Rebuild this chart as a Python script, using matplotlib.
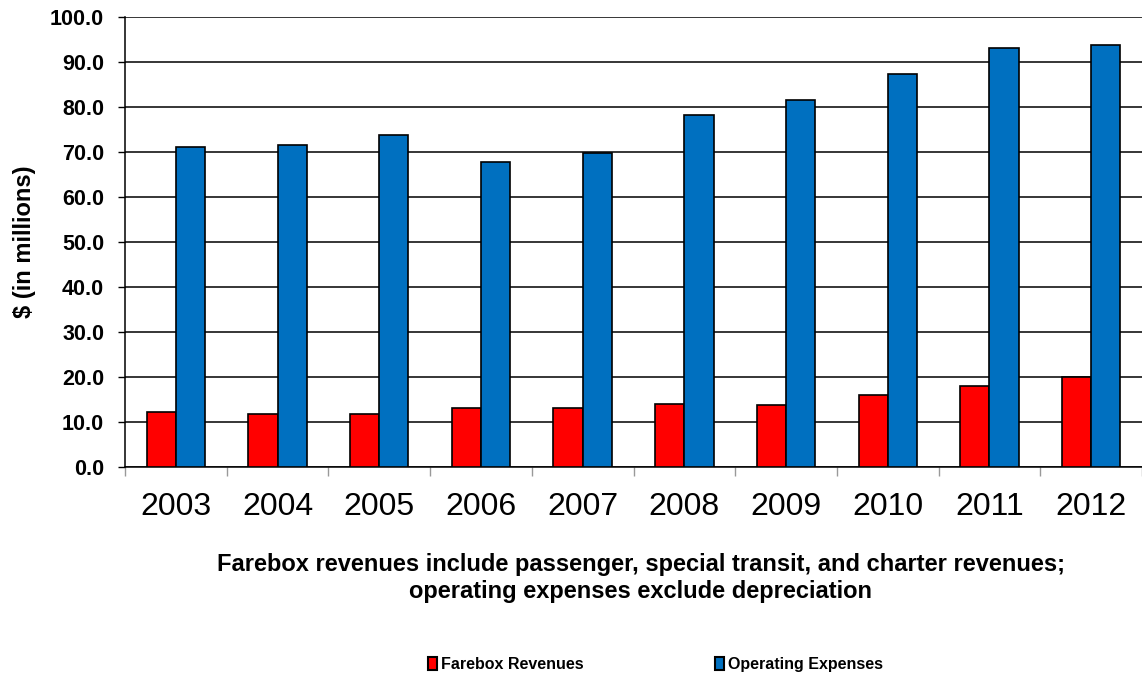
import numpy as np
import matplotlib.pyplot as plt
from matplotlib.patches import Patch

plt.rcParams['font.family'] = ['Liberation Sans', 'DejaVu Sans']

years = ["2003", "2004", "2005", "2006", "2007", "2008", "2009", "2010", "2011", "2012"]
farebox = [12.3, 11.8, 11.7, 13.2, 13.0, 14.0, 13.8, 16.1, 17.9, 20.1]
expenses = [71.0, 71.5, 73.8, 67.7, 69.7, 78.3, 81.5, 87.3, 93.0, 93.7]

red = "#ff0000"
blue = "#0070c0"

fig = plt.figure(figsize=(11.42, 6.81), dpi=100)
ax = fig.add_axes([0.1095, 0.3143, 0.8905, 0.6608])

x = np.arange(len(years))
w = 0.287
ax.bar(x - w / 2, farebox, w, color=red, edgecolor="black", linewidth=1.2, zorder=3)
ax.bar(x + w / 2, expenses, w, color=blue, edgecolor="black", linewidth=1.2, zorder=3)

ax.set_ylim(0, 100)
ax.set_xlim(-0.5, len(years) - 0.5)
ax.set_yticks(np.arange(0, 101, 10))
ax.set_yticklabels(["%.1f" % v for v in np.arange(0, 101, 10)], fontsize=15.5, fontweight="bold")
ax.yaxis.grid(True, color="black", linewidth=1.1, zorder=0)
ax.set_axisbelow(True)

ax.set_xticks(x)
ax.set_xticklabels(years, fontsize=23)
ax.tick_params(axis="x", length=0, pad=18)
ax.set_xticks(np.arange(-0.5, len(years), 1), minor=True)
ax.tick_params(axis="x", which="minor", length=6.5, color="#999999", width=1)
ax.tick_params(axis="y", length=5, width=1, pad=10)

for s in ["top", "right"]:
    ax.spines[s].set_visible(False)
ax.spines["left"].set_linewidth(1.1)
ax.spines["bottom"].set_linewidth(1.1)

ax.set_ylabel("$ (in millions)", fontsize=17, fontweight="bold")
ax.yaxis.set_label_coords(-0.088, 0.5)

fig.text(0.561, 0.151, "Farebox revenues include passenger, special transit, and charter revenues;\n"
         "operating expenses exclude depreciation",
         ha="center", va="center", fontsize=17, fontweight="bold", linespacing=1.25)

handles = [Patch(facecolor=red, edgecolor="black", linewidth=1.5),
           Patch(facecolor=blue, edgecolor="black", linewidth=1.5)]
fig.legend(handles, ["Farebox Revenues", "Operating Expenses"], loc="center",
           bbox_to_anchor=(0.574, 0.024), ncol=2, frameon=False,
           prop={"size": 11.5, "weight": "bold"},
           handlelength=0.55, handleheight=0.85, handletextpad=0.25, columnspacing=8.2)

fig.savefig("out.png", dpi=100)
